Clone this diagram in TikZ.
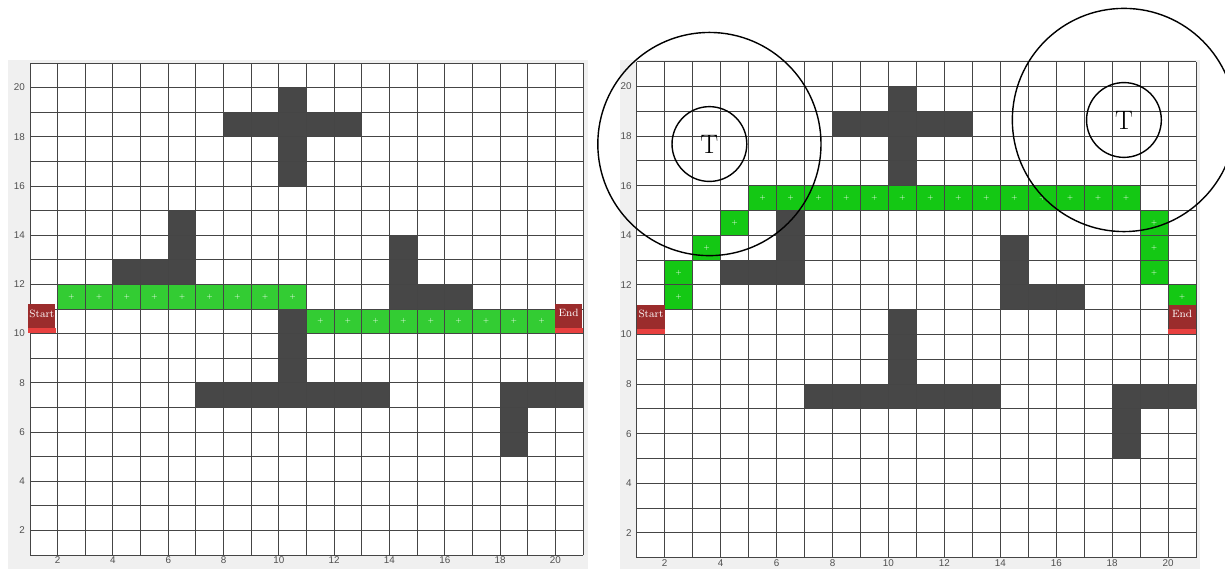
\documentclass[tikz,border=0pt]{standalone}
\usepackage{fontspec}
\setsansfont{Liberation Sans}
\usetikzlibrary{positioning}

\definecolor{panelgray}{HTML}{F0F0F0}
\definecolor{wallgray}{HTML}{474747}
\definecolor{linegray}{HTML}{454545}
\definecolor{ticktext}{HTML}{505050}
\definecolor{routeL}{HTML}{33CC33}
\definecolor{routeR}{HTML}{14C814}
\definecolor{termred}{HTML}{9B2C2C}
\definecolor{stripred}{HTML}{E8403F}

% obstacle cells, lower left corners
\newcommand{\wallcells}{8/18,9/18,10/18,11/18,12/18,10/16,10/17,10/19,
  4/12,5/12,6/12,6/13,6/14,
  10/8,10/9,10/10,7/7,8/7,9/7,10/7,11/7,12/7,13/7,
  14/11,14/12,14/13,15/11,16/11,
  18/7,19/7,20/7,18/5,18/6}

% grid lines and ticks, #1 = name prefix
\newcommand{\mapframe}[1]{%
  \foreach \g in {1,...,21} {
    \draw[gridline] (\g,1) -- (\g,21);
    \draw[gridline] (1,\g) -- (21,\g);
  }
  \foreach \t in {2,4,...,20} {
    \node[ticklbl,anchor=east] (#1y\t) at ([xshift=-0.12cm]1,\t) {\t};
    \node[ticklbl,anchor=north] (#1x\t) at ([yshift=-0.04cm]\t,1) {\t};
  }
}

\begin{document}
\begin{tikzpicture}[x=1cm,y=1cm,
  wall/.style={fill=wallgray},
  gridline/.style={draw=linegray,line width=0.65pt},
  ticklbl/.style={inner sep=0pt,text=ticktext,font=\sffamily\fontsize{7}{8}\selectfont},
  routemark/.style={inner sep=0pt,text=white,font=\fontsize{4.5}{5}\selectfont},
  termbox/.style={fill=termred,minimum width=0.68cm,minimum height=0.73cm,inner sep=0pt},
  termtext/.style={inner sep=0pt,text=white,font=\fontsize{7.5}{8}\selectfont},
  target/.style={circle,draw,line width=1pt,minimum size=1.87cm,inner sep=0pt,font=\fontsize{19}{20}\selectfont},
  reach/.style={circle,draw,line width=1pt,minimum size=5.58cm,inner sep=0pt}]
\path[use as bounding box,clip] (0,0) rectangle (30.625,14.225);
\fill[panelgray] (0.2,0) rectangle (14.7,12.725);
\fill[panelgray] (15.5,0) rectangle (30.0,12.725);

% left map
\begin{scope}[xshift=0.05875cm,yshift=-0.265cm,x=0.69125cm,y=0.615cm]
\fill[white] (1,1) rectangle (21,21);
\foreach \cx/\cy in \wallcells \fill[wall] (\cx,\cy) rectangle ++(1,1);
\foreach \cx in {2,...,10} {
  \fill[routeL] (\cx,11) rectangle ++(1,1);
  \node[routemark] (la\cx) at (\cx+0.5,11.5) {+};
}
\foreach \cx in {11,...,19} {
  \fill[routeL] (\cx,10) rectangle ++(1,1);
  \node[routemark] (lb\cx) at (\cx+0.5,10.5) {+};
}
\mapframe{l}
\node[termbox] (startL) at (1.43,10.61) {};
\fill[stripred] (startL.south west) rectangle ([yshift=0.13cm]startL.south east);
\node[termtext,below=0.14cm of startL.north] (startLlbl) {Start};
\node[termbox] (endL) at (20.48,10.61) {};
\fill[stripred] (endL.south west) rectangle ([yshift=0.13cm]endL.south east);
\node[termtext,below=0.14cm of endL.north] (endLlbl) {End};
\end{scope}

% right map
\begin{scope}[xshift=15.218cm,yshift=-0.3375cm,x=0.69925cm,y=0.62cm]
\fill[white] (1,1) rectangle (21,21);
\foreach \cx/\cy in \wallcells \fill[wall] (\cx,\cy) rectangle ++(1,1);
\foreach \cx/\cy in {2/11,2/12,3/13,4/14,5/15,6/15,7/15,8/15,9/15,10/15,11/15,12/15,
  13/15,14/15,15/15,16/15,17/15,18/15,19/14,19/13,19/12,20/11} {
  \fill[routeR] (\cx,\cy) rectangle ++(1,1);
  \node[routemark] (r\cx-\cy) at (\cx+0.5,\cy+0.5) {+};
}
\mapframe{r}
\node[termbox] (startR) at (1.51,10.62) {};
\fill[stripred] (startR.south west) rectangle ([yshift=0.13cm]startR.south east);
\node[termtext,below=0.14cm of startR.north] (startRlbl) {Start};
\node[termbox] (endR) at (20.5,10.62) {};
\fill[stripred] (endR.south west) rectangle ([yshift=0.13cm]endR.south east);
\node[termtext,below=0.14cm of endR.north] (endRlbl) {End};

\node[target] (t1) at (3.6,17.68) {T};
\node[reach] (zone1) at (t1) {};
\node[target] (t2) at (18.42,18.65) {T};
\node[reach] (zone2) at (t2) {};
\end{scope}
\end{tikzpicture}
\end{document}
